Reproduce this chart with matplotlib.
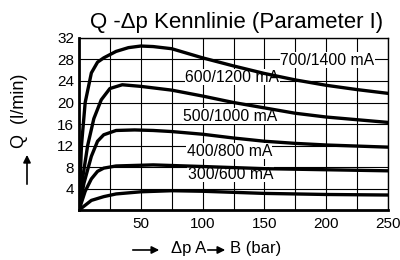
import matplotlib.pyplot as plt

plt.rcParams['font.family'] = ['Liberation Sans', 'DejaVu Sans']

# --- DATA ---
p_700 = [0, 2, 5, 10, 15, 20, 30, 40, 50, 60, 75, 100, 125, 150, 175, 200, 225, 250]
q_700 = [0, 12, 20, 25.5, 27.5, 28.3, 29.5, 30.2, 30.5, 30.4, 30.0, 28.3, 26.8, 25.4, 24.2, 23.2, 22.4, 21.7]

p_600 = [0, 3, 7, 12, 18, 25, 35, 50, 75, 100, 125, 150, 175, 200, 225, 250]
q_600 = [0, 6, 12, 17, 20.5, 22.6, 23.3, 23.0, 22.3, 21.2, 20.0, 19.0, 18.0, 17.3, 16.8, 16.3]

p_500 = [0, 4, 10, 15, 20, 30, 45, 60, 75, 100, 125, 150, 175, 200, 225, 250]
q_500 = [0, 5, 10, 12.8, 14, 14.8, 14.9, 14.8, 14.6, 14.1, 13.4, 12.8, 12.4, 12.1, 11.9, 11.7]

p_400 = [0, 5, 10, 15, 20, 30, 45, 60, 100, 150, 200, 250]
q_400 = [0, 3.5, 5.8, 7.2, 7.8, 8.2, 8.3, 8.4, 8.1, 7.7, 7.5, 7.3]

p_300 = [0, 10, 20, 30, 50, 75, 100, 125, 150, 200, 250]
q_300 = [0, 1.8, 2.5, 3.0, 3.4, 3.6, 3.5, 3.3, 3.1, 2.9, 2.8]

curves = [(p_700, q_700), (p_600, q_600), (p_500, q_500), (p_400, q_400), (p_300, q_300)]
labels = ["700/1400 mA", "600/1200 mA", "500/1000 mA", "400/800 mA", "300/600 mA"]
# left edge / baseline of each curve label, in data units
label_pos = [(163, 27.0), (86, 23.9), (84, 16.6), (87, 10.1), (88, 5.8)]

x_ticks = [50, 100, 150, 200, 250]
y_ticks = [4, 8, 12, 16, 20, 24, 28, 32]

fig = plt.figure(figsize=(4, 2.6), dpi=100)
ax = fig.add_axes([0.1975, 0.192, 0.7725, 0.662])

for p, q in curves:
    ax.plot(p, q, color="black", linewidth=2.4, solid_capstyle="round", zorder=3)

for txt, (x, y) in zip(labels, label_pos):
    ax.text(x, y, txt, fontsize=11.3, ha="left", va="baseline", zorder=2,
            bbox=dict(facecolor="white", edgecolor="none", pad=0.3))

ax.set_xlim(0, 250)
ax.set_ylim(0, 32)
ax.set_xticks(range(0, 251, 25))
ax.set_xticklabels([str(v) if v in x_ticks else "" for v in range(0, 251, 25)])
ax.set_yticks(range(0, 33, 4))
ax.set_yticklabels([str(v) if v in y_ticks else "" for v in range(0, 33, 4)])
ax.tick_params(axis="x", length=0, labelsize=11, pad=5)
ax.tick_params(axis="y", length=0, labelsize=11, pad=3.5)
ax.grid(True, color="black", linewidth=0.8)
for side in ["top", "right"]:
    ax.spines[side].set_linewidth(1.0)
for side in ["left", "bottom"]:
    ax.spines[side].set_linewidth(2.0)

fig.text(0.591, 0.915, "Q -Δp Kennlinie (Parameter I)", fontsize=16, ha="center", va="center")

arrow = dict(arrowstyle="-|>", color="black", lw=1.2, mutation_scale=11)

# y axis label with arrow
fig.text(0.05, 0.573, "Q  (l/min)", fontsize=13, rotation=90, ha="center", va="center")
fig.add_artist(plt.Annotation("", xy=(0.0675, 0.415), xytext=(0.0675, 0.281),
                              xycoords="figure fraction", arrowprops=arrow))

# x axis label with arrows
fig.add_artist(plt.Annotation("", xy=(0.405, 0.0385), xytext=(0.325, 0.0385),
                              xycoords="figure fraction", arrowprops=arrow))
fig.text(0.4275, 0.027, "Δp A", fontsize=12, ha="left", va="baseline")
fig.add_artist(plt.Annotation("", xy=(0.57, 0.0385), xytext=(0.5125, 0.0385),
                              xycoords="figure fraction", arrowprops=arrow))
fig.text(0.575, 0.027, "B (bar)", fontsize=12, ha="left", va="baseline")

fig.savefig("out.png", dpi=100)
